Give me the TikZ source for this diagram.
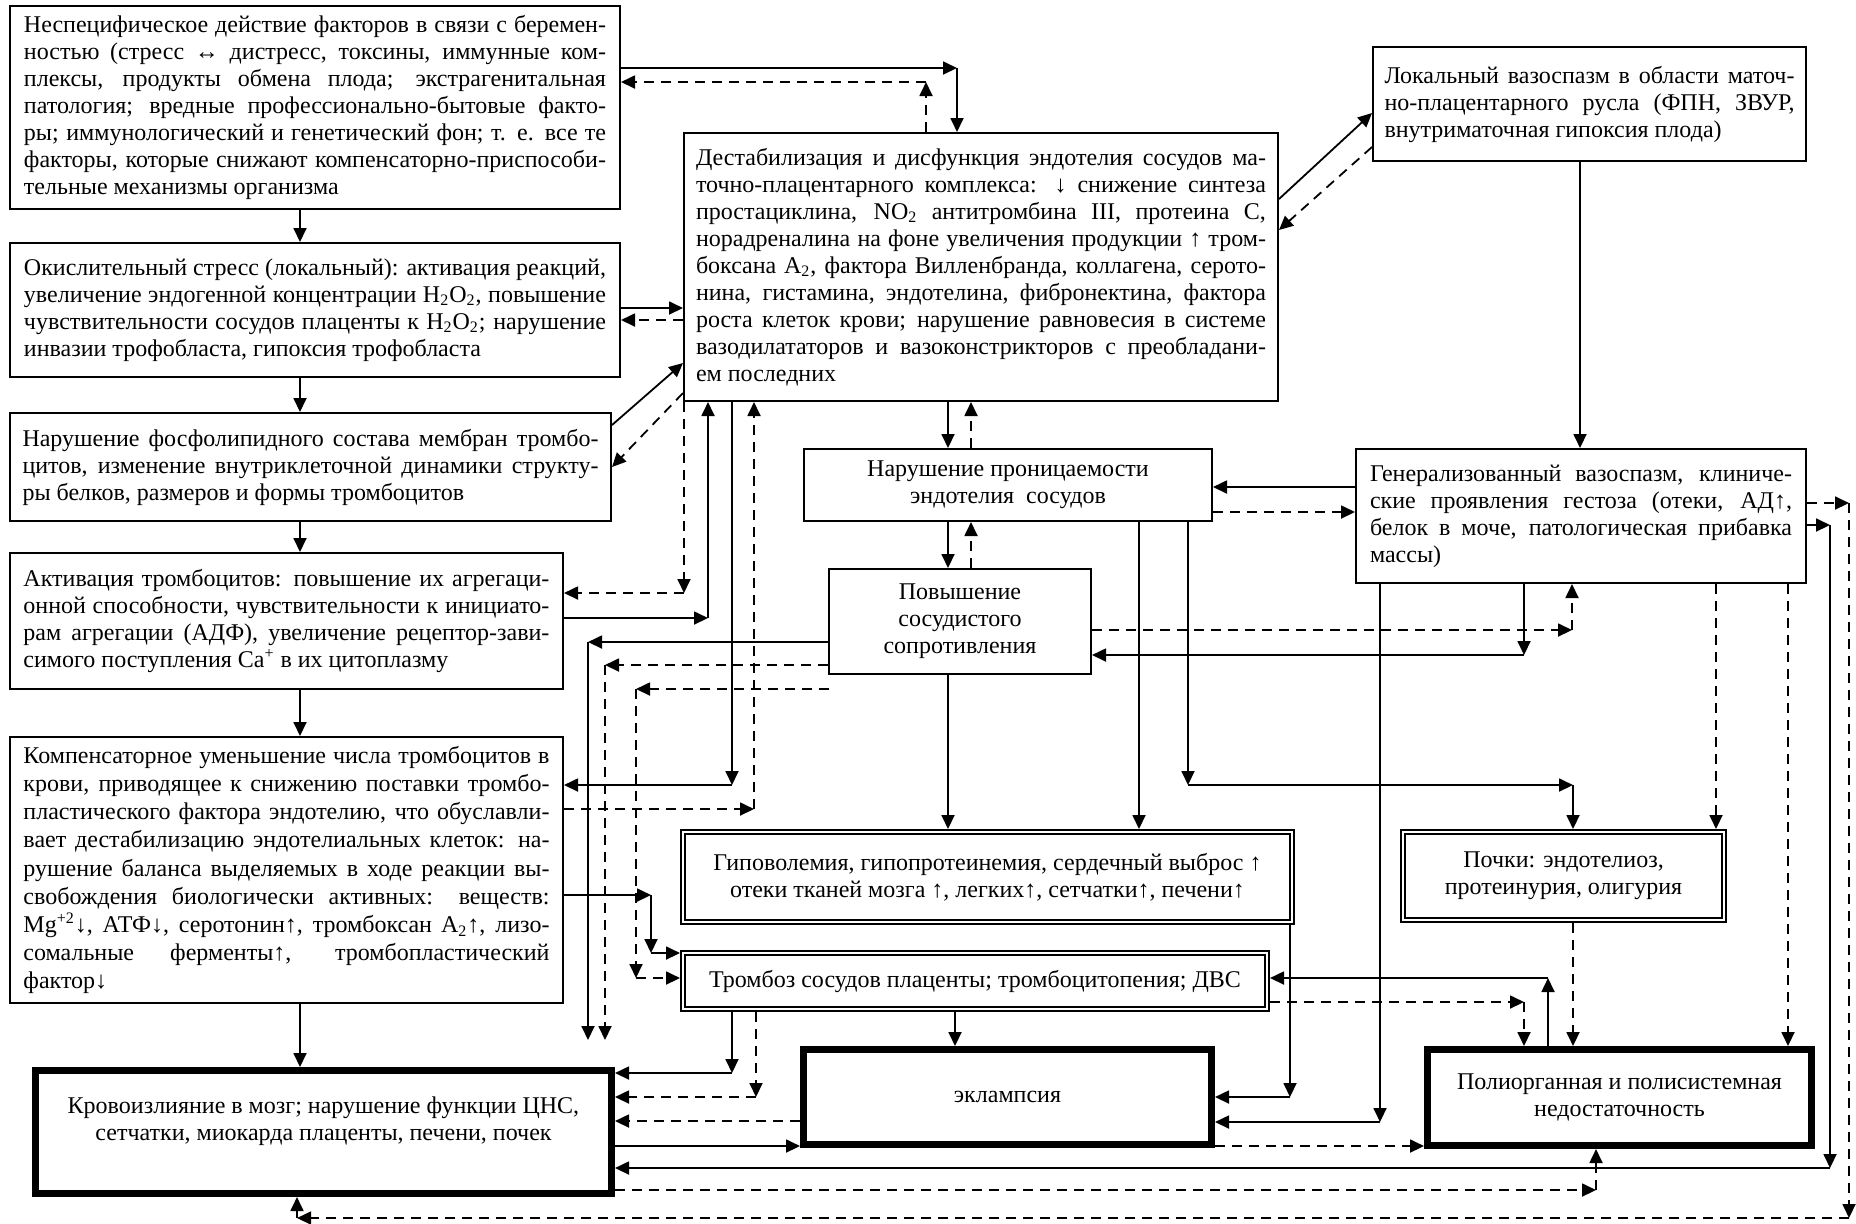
\documentclass[tikz,border=0pt]{standalone}
\usepackage{fontspec}
\setmainfont{Liberation Serif}
\usetikzlibrary{arrows.meta}
\newcommand\jl[1]{\makebox[\linewidth][s]{#1}\\}
\begin{document}
\begin{tikzpicture}[x=0.5pt,y=-0.5pt,
  font=\fontsize{12pt}{13.5pt}\selectfont,
  bx/.style={draw, line width=1pt, inner sep=0pt},
  thk/.style={draw, line width=3.5pt, inner sep=0pt, align=center},
  dbl/.style={draw, double, double distance=1.4pt, line width=0.8pt, inner sep=0pt, outer sep=1.5pt, align=center},
  sa/.style={line width=0.9pt, -{Triangle[length=7pt,width=6.5pt]}},
  da/.style={sa, dash pattern=on 5pt off 3.5pt}]
\useasboundingbox (0,0) rectangle (1856,1223);

% ---------- boxes ----------
\node[bx, minimum width=305pt, minimum height=101.5pt] (b1) at (315,107.5) {\parbox{291pt}{%
\jl{Неспецифическое действие факторов в связи с беремен-}%
\jl{ностью (стресс ↔ дистресс, токсины, иммунные ком-}%
\jl{плексы, продукты обмена плода; экстрагенитальная}%
\jl{патология; вредные профессионально-бытовые факто-}%
\jl{ры; иммунологический и генетический фон; т. е. все те}%
\jl{факторы, которые снижают компенсаторно-приспособи-}%
тельные механизмы организма}};

\node[bx, minimum width=305pt, minimum height=67pt] (b2) at (315,310) {\parbox{291pt}{%
\jl{Окислительный стресс (локальный): активация реакций,}%
\jl{увеличение эндогенной концентрации H\textsubscript{2}O\textsubscript{2}, повышение}%
\jl{чувствительности сосудов плаценты к H\textsubscript{2}O\textsubscript{2}; нарушение}%
инвазии трофобласта, гипоксия трофобласта}};

\node[bx, minimum width=300.5pt, minimum height=54pt] (b3) at (310.5,467) {\parbox{288pt}{%
\jl{Нарушение фосфолипидного состава мембран тромбо-}%
\jl{цитов, изменение внутриклеточной динамики структу-}%
ры белков, размеров и формы тромбоцитов}};

\node[bx, minimum width=276.5pt, minimum height=68pt] (b4) at (286.5,621) {\parbox{263pt}{%
\jl{Активация тромбоцитов: повышение их агрегаци-}%
\jl{онной способности, чувствительности к инициато-}%
\jl{рам агрегации (АДФ), увеличение рецептор-зави-}%
симого поступления Ca\textsuperscript{+} в их цитоплазму}};

\node[bx, minimum width=276.5pt, minimum height=133pt] (b5) at (286.5,870) {\parbox{263pt}{\fontsize{12pt}{14.1pt}\selectfont
\jl{Компенсаторное уменьшение числа тромбоцитов в}%
\jl{крови, приводящее к снижению поставки тромбо-}%
\jl{пластического фактора эндотелию, что обуславли-}%
\jl{вает дестабилизацию эндотелиальных клеток: на-}%
\jl{рушение баланса выделяемых в ходе реакции вы-}%
\jl{свобождения биологически активных: веществ:}%
\jl{Mg\textsuperscript{+2}↓, АТФ↓, серотонин↑, тромбоксан A\textsubscript{2}↑, лизо-}%
\jl{сомальные ферменты↑, тромбопластический}%
фактор↓}};

\node[thk, minimum width=288pt, minimum height=61.5pt] (b6) at (323.5,1132) {};
\node[align=center] (b6t) at (323.5,1121) {Кровоизлияние в мозг; нарушение функции ЦНС,\\сетчатки, миокарда плаценты, печени, почек};

\node[bx, minimum width=297pt, minimum height=134pt] (D) at (981,267) {\parbox{285pt}{%
\jl{Дестабилизация и дисфункция эндотелия сосудов ма-}%
\jl{точно-плацентарного комплекса: ↓ снижение синтеза}%
\jl{простациклина, NO\textsubscript{2} антитромбина III, протеина С,}%
\jl{норадреналина на фоне увеличения продукции ↑ тром-}%
\jl{боксана А\textsubscript{2}, фактора Вилленбранда, коллагена, серото-}%
\jl{нина, гистамина, эндотелина, фибронектина, фактора}%
\jl{роста клеток крови; нарушение равновесия в системе}%
\jl{вазодилататоров и вазоконстрикторов с преобладани-}%
ем последних}};

\node[bx, minimum width=216.5pt, minimum height=57pt] (L) at (1589.5,104) {\parbox{205pt}{%
\jl{Локальный вазоспазм в области маточ-}%
\jl{но-плацентарного русла (ФПН, ЗВУР,}%
внутриматочная гипоксия плода)}};

\node[bx, minimum width=225pt, minimum height=67pt] (G) at (1581,516) {\parbox{211pt}{%
\jl{Генерализованный вазоспазм, клиниче-}%
\jl{ские проявления гестоза (отеки, АД↑,}%
\jl{белок в моче, патологическая прибавка}%
массы)}};

\node[bx, align=center, minimum width=204pt, minimum height=36pt] (N) at (1008,485) {Нарушение проницаемости\\эндотелия\ \ сосудов};
\node[bx, align=center, minimum width=131pt, minimum height=52.5pt] (P) at (960,621.5) {Повышение\\сосудистого\\сопротивления};
\node[dbl, minimum width=304.5pt, minimum height=45pt] (H) at (987.5,877) {Гиповолемия, гипопротеинемия, сердечный выброс ↑\\отеки тканей мозга ↑, легких↑, сетчатки↑, печени↑};
\node[dbl, minimum width=292pt, minimum height=28pt] (T) at (975,981) {Тромбоз сосудов плаценты; тромбоцитопения; ДВС};
\node[thk, minimum width=204pt, minimum height=47.5pt] (E) at (1007.5,1097) {эклампсия};
\node[dbl, minimum width=160.5pt, minimum height=44pt] (K) at (1563.5,876) {Почки: эндотелиоз,\\протеинурия, олигурия};
\node[thk, minimum width=192pt, minimum height=48pt] (M) at (1619.5,1097.5) {Полиорганная и полисистемная\\недостаточность};

% ---------- connectors ----------
\draw[sa] (b1.south -| 300,0) -- (b2.north -| 300,0);
\draw[sa] (b2.south -| 300,0) -- (b3.north -| 300,0);
\draw[sa] (b3.south -| 300,0) -- (b4.north -| 300,0);
\draw[sa] (b4.south -| 300,0) -- (b5.north -| 300,0);
\draw[sa] (b5.south -| 300,0) -- (b6.north -| 300,0);

\coordinate (k6) at (957,68);
\draw[sa] (b1.east |- k6) -- (k6);
\draw[sa] (k6) -- (D.north -| k6);
\coordinate (k7) at (926,82);
\draw[da] (D.north -| k7) -- (k7);
\draw[da] (k7) -- (b1.east |- k7);

\draw[sa] (b2.east |- 0,308) -- (D.west |- 0,308);
\draw[da] (D.west |- 0,320) -- (b2.east |- 0,320);

\draw[sa] (b3.east |- 0,425) -- (D.west |- 0,363);
\draw[da] (D.west |- 0,393) -- (b3.east |- 0,467);

\coordinate (k12) at (684,593);
\draw[da] (D.south -| k12) -- (k12);
\draw[da] (k12) -- (b4.east |- k12);
\coordinate (k13) at (708,618);
\draw[sa] (b4.east |- k13) -- (k13);
\draw[sa] (k13) -- (D.south -| k13);
\coordinate (k14) at (732,785);
\draw[sa] (D.south -| k14) -- (k14);
\draw[sa] (k14) -- (b5.east |- k14);
\coordinate (k15) at (754,809);
\draw[da] (b5.east |- k15) -- (k15);
\draw[da] (k15) -- (D.south -| k15);

\draw[sa] (D.south -| 948,0) -- (N.north -| 948,0);
\draw[da] (N.north -| 971,0) -- (D.south -| 971,0);
\draw[sa] (N.south -| 948,0) -- (P.north -| 948,0);
\draw[da] (P.north -| 971,0) -- (N.south -| 971,0);

\coordinate (k20) at (588,642); \coordinate (e20) at (588,1040);
\draw[sa] (P.west |- k20) -- (k20);
\draw[sa] (k20) -- (e20);
\coordinate (k21) at (605,665); \coordinate (e21) at (605,1040);
\draw[da] (P.west |- k21) -- (k21);
\draw[da] (k21) -- (e21);
\coordinate (s22) at (829,689); \coordinate (k22) at (636,689); \coordinate (k22b) at (636,978);
\draw[da] (s22) -- (k22);
\draw[da] (k22) -- (k22b);
\draw[da] (k22b) -- (T.west |- k22b);
\coordinate (k23) at (651,895); \coordinate (k23b) at (651,953);
\draw[sa] (b5.east |- k23) -- (k23);
\draw[sa] (k23) -- (k23b);
\draw[sa] (k23b) -- (T.west |- k23b);

\draw[sa] (P.south -| 948,0) -- (H.north -| 948,0);
\draw[sa] (N.south -| 1139,0) -- (H.north -| 1139,0);
\coordinate (k26) at (1188,785); \coordinate (k26b) at (1573,785);
\draw[sa] (N.south -| k26) -- (k26);
\draw[sa] (k26) -- (k26b);
\draw[sa] (k26b) -- (K.north -| k26b);

\draw[sa] (G.west |- 0,487) -- (N.east |- 0,487);
\draw[da] (N.east |- 0,512) -- (G.west |- 0,512);
\coordinate (k29) at (1572,630);
\draw[da] (P.east |- k29) -- (k29);
\draw[da] (k29) -- (G.south -| k29);
\coordinate (k30) at (1524,655);
\draw[sa] (G.south -| k30) -- (k30);
\draw[sa] (k30) -- (P.east |- k30);

\draw[sa] (L.south -| 1580,0) -- (G.north -| 1580,0);
\draw[sa] (D.east |- 0,199) -- (L.west |- 0,113);
\draw[da] (L.west |- 0,147) -- (D.east |- 0,230);

\draw[da] (G.south -| 1716,0) -- (K.north -| 1716,0);
\draw[da] (G.south -| 1788,0) -- (M.north -| 1788,0);
\draw[da] (K.south -| 1573,0) -- (M.north -| 1573,0);
\coordinate (k37) at (1548,978);
\draw[sa] (M.north -| k37) -- (k37);
\draw[sa] (k37) -- (T.east |- k37);
\coordinate (k38) at (1524,1002);
\draw[da] (T.east |- k38) -- (k38);
\draw[da] (k38) -- (M.north -| k38);

\draw[sa] (T.south -| 955,0) -- (E.north -| 955,0);
\coordinate (k40) at (732,1073);
\draw[sa] (T.south -| k40) -- (k40);
\draw[sa] (k40) -- (b6.east |- k40);
\coordinate (k41) at (756,1097);
\draw[da] (T.south -| k41) -- (k41);
\draw[da] (k41) -- (b6.east |- k41);
\draw[da] (E.west |- 0,1121) -- (b6.east |- 0,1121);
\draw[sa] (b6.east |- 0,1146) -- (E.west |- 0,1146);

\coordinate (k44) at (1290,1097);
\draw[sa] (H.south -| k44) -- (k44);
\draw[sa] (k44) -- (E.east |- k44);
\coordinate (k45) at (1380,1122);
\draw[sa] (G.south -| k45) -- (k45);
\draw[sa] (k45) -- (E.east |- k45);
\draw[da] (E.east |- 0,1146) -- (M.west |- 0,1146);

\coordinate (k47) at (1830,525); \coordinate (k47b) at (1830,1168);
\draw[sa] (G.east |- k47) -- (k47);
\draw[sa] (k47) -- (k47b);
\draw[sa] (k47b) -- (b6.east |- k47b);
\coordinate (k48) at (1596,1190);
\draw[da] (b6.east |- k48) -- (k48);
\draw[da] (k48) -- (M.south -| k48);
\coordinate (k49) at (1849,503); \coordinate (k49b) at (1849,1218); \coordinate (k49c) at (297,1218);
\draw[da] (G.east |- k49) -- (k49);
\draw[da] (k49) -- (k49b);
\draw[da] (k49b) -- (k49c);
\draw[da] (k49c) -- (b6.south -| k49c);
\end{tikzpicture}
\end{document}
